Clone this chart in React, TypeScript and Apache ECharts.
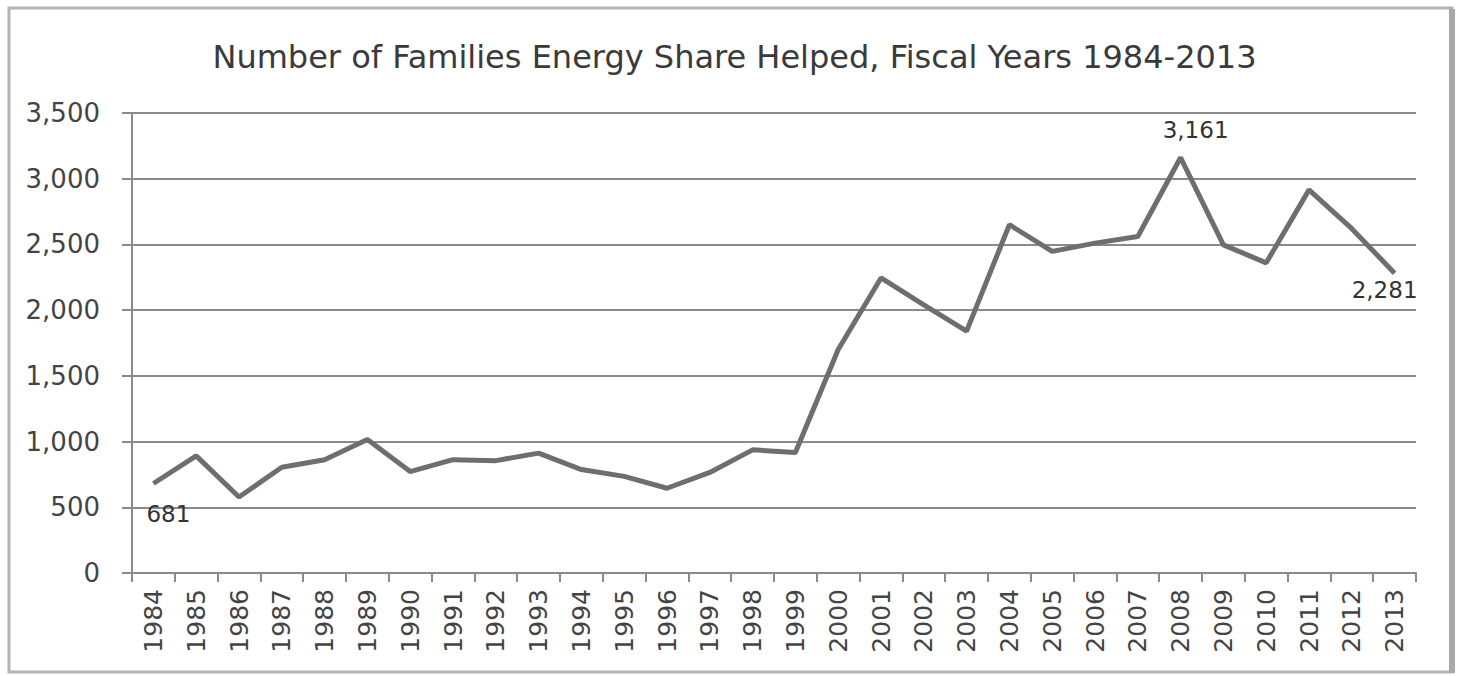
import React, { useEffect, useRef } from "react";
import * as echarts from "echarts";

const years = [
  "1984","1985","1986","1987","1988","1989","1990","1991","1992","1993",
  "1994","1995","1996","1997","1998","1999","2000","2001","2002","2003",
  "2004","2005","2006","2007","2008","2009","2010","2011","2012","2013",
];
const families = [
  681, 891, 578, 805, 862, 1015, 772, 862, 855, 912,
  787, 735, 645, 765, 937, 917, 1700, 2245, 2040, 1840,
  2650, 2447, 2510, 2560, 3161, 2497, 2360, 2915, 2620, 2281,
];
const yTicks = [0, 500, 1000, 1500, 2000, 2500, 3000, 3500];
const titleText = "Number of Families Energy Share Helped, Fiscal Years 1984-2013";
const labelled: Record<number, { offset: [number, number] }> = {
  0: { offset: [15, 31] },
  24: { offset: [15, -28] },
  29: { offset: [-10, 17] },
};

const fmt = (v: number) => v.toLocaleString("en-US");

export default function App() {
  const ref = useRef<HTMLDivElement>(null);
  useEffect(() => {
    document.body.style.margin = "0";
    if (!ref.current) return;
    const chart = echarts.init(ref.current, null, { renderer: "svg" });
    const font = "'DejaVu Sans', sans-serif";
    chart.setOption({
      animation: false,
      backgroundColor: "#ffffff",
      title: {
        text: titleText,
        left: "center",
        top: 36,
        textStyle: { fontFamily: font, fontSize: 32, fontWeight: "normal", color: "#3a3a3a" },
      },
      graphic: [
        { type: "rect", shape: { x: 9, y: 8, width: 1443, height: 664 }, style: { fill: "none", stroke: "#b4b4b4", lineWidth: 3 } },
        { type: "rect", shape: { x: 1449, y: 9, width: 6, height: 664 }, style: { fill: "#a8a8a8" } },
      ],
      grid: { left: 132, right: 53, top: 113, bottom: 103 },
      xAxis: {
        type: "category",
        data: years,
        boundaryGap: true,
        axisLine: { lineStyle: { color: "#8a8a8a", width: 2 } },
        axisTick: { show: true, length: 9, lineStyle: { color: "#8a8a8a", width: 2 } },
        axisLabel: { rotate: 90, interval: 0, margin: 16, fontFamily: font, fontSize: 25, color: "#444" },
      },
      yAxis: {
        type: "value",
        min: 0,
        max: 3500,
        interval: 500,
        axisLine: { show: true, lineStyle: { color: "#8a8a8a", width: 2 } },
        axisTick: { show: true, length: 10, lineStyle: { color: "#8a8a8a", width: 2 } },
        splitLine: { lineStyle: { color: "#8a8a8a", width: 2 } },
        axisLabel: {
          margin: 32,
          fontFamily: font,
          fontSize: 26,
          color: "#444",
          formatter: (v: number) => (yTicks.includes(v) ? fmt(v) : ""),
        },
      },
      series: [
        {
          type: "line",
          data: families.map((v, i) =>
            labelled[i]
              ? {
                  value: v,
                  label: {
                    show: true,
                    position: "inside",
                    offset: labelled[i].offset,
                    formatter: (p: any) => fmt(p.value),
                    fontFamily: font,
                    fontSize: 23,
                    color: "#333",
                  },
                }
              : v
          ),
          showSymbol: true,
          symbol: "circle",
          symbolSize: 1,
          itemStyle: { color: "rgba(0,0,0,0)" },
          lineStyle: { color: "#6e6e6e", width: 5 },
        },
      ],
    });
    return () => chart.dispose();
  }, []);
  return <div ref={ref} style={{ width: 1469, height: 676 }} />;
}
